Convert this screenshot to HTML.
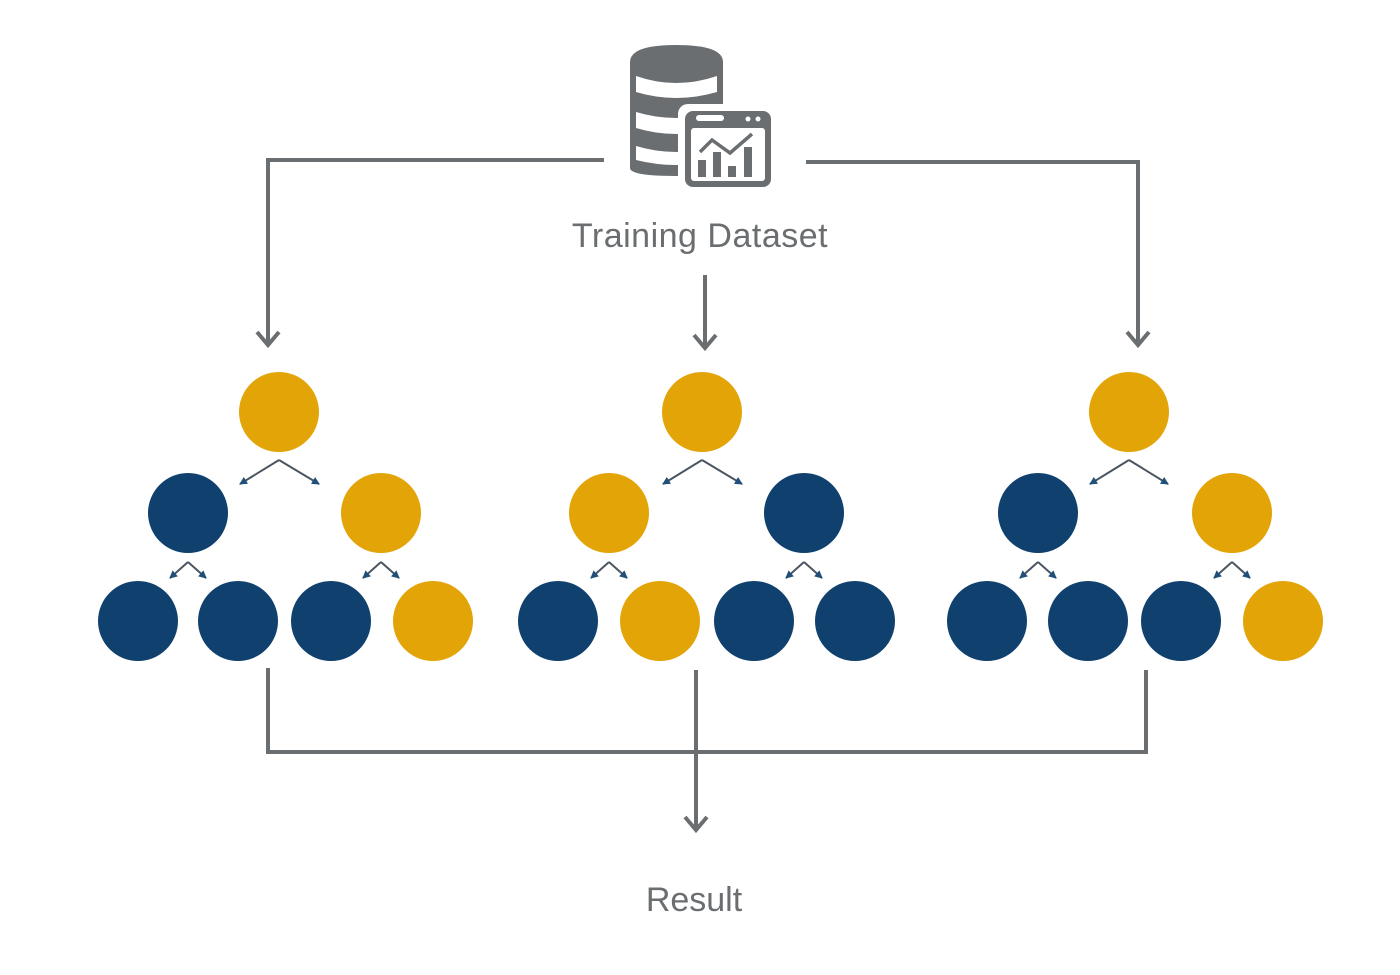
<!DOCTYPE html>
<html><head><style>body{margin:0;background:#fff}</style></head><body>
<svg width="1400" height="970" viewBox="0 0 1400 970" xmlns="http://www.w3.org/2000/svg">
<defs>
<marker id="sm" markerWidth="8" markerHeight="8" refX="7" refY="4" orient="auto" markerUnits="userSpaceOnUse"><path d="M0,0 L8,4 L0,8 z" fill="#1f4f7a"/></marker>
</defs>
<g fill="none" stroke="#6b6e70" stroke-width="4">
<polyline points="604,160 268,160 268,343"/>
<polyline points="806,162 1138,162 1138,343"/>
<line x1="705" y1="275" x2="705" y2="346"/>
<polyline points="268,668 268,752 1146,752 1146,670"/>
<line x1="696" y1="670" x2="696" y2="828"/>
<polyline points="257,332 268,345 279,332"/>
<polyline points="1127,332 1138,345 1149,332"/>
<polyline points="694,335 705,348 716,335"/>
<polyline points="685,817 696,830 707,817"/>
</g>
<g fill="#6b6e70">
<path d="M630,62 Q630,45 676,45 Q723,45 723,62 L723,168 Q723,176 676,176 Q630,176 630,168 Z"/>
</g>
<g fill="#fff">
<path d="M636,76 Q676,90 717,76 L717,92 Q676,104 636,92 Z"/>
<path d="M636,112 Q676,124 717,112 L717,128 Q676,140 636,128 Z"/>
<path d="M636,146 Q676,158 717,146 L717,160 Q676,170 636,160 Z"/>
<rect x="678" y="104" width="100" height="90" rx="10"/>
</g>
<rect x="685" y="111" width="86" height="76" rx="8" fill="#6b6e70"/>
<rect x="691" y="128" width="74" height="53" rx="3" fill="#fff"/>
<rect x="696" y="115" width="28" height="6" rx="3" fill="#fff"/>
<circle cx="748" cy="119" r="2.5" fill="#fff"/><circle cx="758" cy="119" r="2.5" fill="#fff"/>
<g fill="#6b6e70"><rect x="698" y="160" width="8" height="17"/><rect x="713" y="152" width="8" height="25"/><rect x="728" y="166" width="8" height="11"/><rect x="744" y="147" width="8" height="30"/></g>
<polyline points="700,152 712,140 730,153 752,134" fill="none" stroke="#6b6e70" stroke-width="3.5"/>
<g font-family="Liberation Sans, sans-serif" fill="#6b6e70" font-size="34" text-anchor="middle">
<text x="700" y="247" letter-spacing="0.5">Training Dataset</text>
<text x="694" y="911">Result</text>
</g>
<g stroke="#4a5560" stroke-width="2" fill="none" marker-end="url(#sm)">
<path d="M279,460 L240,484"/><path d="M279,460 L319,484"/>
<path d="M702,460 L663,484"/><path d="M702,460 L742,484"/>
<path d="M1129,460 L1090,484"/><path d="M1129,460 L1168,484"/>
<path d="M188,562 L170,578"/><path d="M188,562 L206,578"/>
<path d="M381,562 L363,578"/><path d="M381,562 L399,578"/>
<path d="M609,562 L591,578"/><path d="M609,562 L627,578"/>
<path d="M804,562 L786,578"/><path d="M804,562 L822,578"/>
<path d="M1038,562 L1020,578"/><path d="M1038,562 L1056,578"/>
<path d="M1232,562 L1214,578"/><path d="M1232,562 L1250,578"/>
</g>
<g>
<circle cx="279" cy="412" r="40" fill="#e2a406"/>
<circle cx="188" cy="513" r="40" fill="#0f406e"/>
<circle cx="381" cy="513" r="40" fill="#e2a406"/>
<circle cx="138" cy="621" r="40" fill="#0f406e"/>
<circle cx="238" cy="621" r="40" fill="#0f406e"/>
<circle cx="331" cy="621" r="40" fill="#0f406e"/>
<circle cx="433" cy="621" r="40" fill="#e2a406"/>
<circle cx="702" cy="412" r="40" fill="#e2a406"/>
<circle cx="609" cy="513" r="40" fill="#e2a406"/>
<circle cx="804" cy="513" r="40" fill="#0f406e"/>
<circle cx="558" cy="621" r="40" fill="#0f406e"/>
<circle cx="660" cy="621" r="40" fill="#e2a406"/>
<circle cx="754" cy="621" r="40" fill="#0f406e"/>
<circle cx="855" cy="621" r="40" fill="#0f406e"/>
<circle cx="1129" cy="412" r="40" fill="#e2a406"/>
<circle cx="1038" cy="513" r="40" fill="#0f406e"/>
<circle cx="1232" cy="513" r="40" fill="#e2a406"/>
<circle cx="987" cy="621" r="40" fill="#0f406e"/>
<circle cx="1088" cy="621" r="40" fill="#0f406e"/>
<circle cx="1181" cy="621" r="40" fill="#0f406e"/>
<circle cx="1283" cy="621" r="40" fill="#e2a406"/>
</g>
</svg>
</body></html>
